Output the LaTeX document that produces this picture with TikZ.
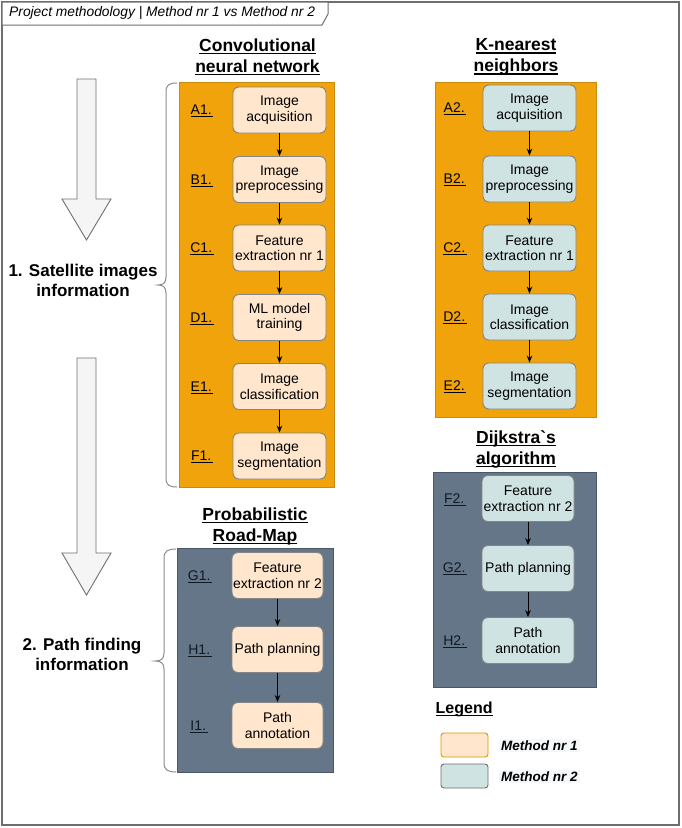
\documentclass[tikz,border=0pt]{standalone}
\usepackage{fontspec}
\setmainfont{Liberation Sans}[Ligatures=TeXOff]
\usetikzlibrary{arrows.meta}
\definecolor{panelO}{HTML}{F0A30A}
\definecolor{panelOline}{HTML}{C98A10}
\definecolor{panelD}{HTML}{647687}
\definecolor{panelDline}{HTML}{4A5866}
\definecolor{mone}{HTML}{FFE6CC}
\definecolor{mtwo}{HTML}{D0E3E3}
\definecolor{boxline}{HTML}{858585}
\definecolor{frameline}{HTML}{6E6E6E}
\definecolor{arrowfill}{HTML}{F5F5F5}
\definecolor{arrowline}{HTML}{707070}
\definecolor{braceline}{HTML}{8C8C8C}
\definecolor{legonel}{HTML}{D79B00}
\definecolor{legtwol}{HTML}{6E6E6E}
\definecolor{darklabel}{HTML}{111A24}
\definecolor{legbg}{HTML}{F4F8FA}
\newcommand{\titleul}[1]{\setbox0=\hbox{#1}\rlap{\vrule height -1.6pt depth 3.1pt width \wd0}\box0}
\newcommand{\labelul}[1]{\setbox0=\hbox{#1\kern1.5pt}\rlap{\vrule height -1.8pt depth 2.9pt width \wd0}\box0}
\begin{document}
\begin{tikzpicture}[x=1pt,y=-1pt,
  panelorange/.style={draw=panelOline, fill=panelO, line width=1pt, inner sep=0pt},
  paneldark/.style={draw=panelDline, fill=panelD, line width=1pt, inner sep=0pt},
  stepone/.style={draw=boxline, fill=mone, rounded corners=6pt, minimum width=93pt, minimum height=46pt, align=center, inner sep=1pt, line width=0.9pt, font=\fontsize{14}{15.5}\selectfont},
  steptwo/.style={stepone, fill=mtwo},
  lab/.style={font=\fontsize{14}{16}\selectfont, text=black, anchor=base, inner sep=0pt},
  labdark/.style={lab, text=darklabel},
  flow/.style={-{Stealth[length=7pt,width=5.5pt]}, line width=0.9pt, black},
  ttl/.style={font=\bfseries\fontsize{17.5}{21}\selectfont, align=center, inner sep=0pt},
  side/.style={font=\bfseries\fontsize{17}{20}\selectfont, align=center, inner sep=0pt},
  bigarrow/.style={draw=arrowline, fill=arrowfill, line width=0.9pt},
  brace/.style={draw=braceline, line width=1pt},
  legtext/.style={font=\bfseries\itshape\fontsize{13.5}{16}\selectfont, fill=legbg, anchor=west, inner xsep=2pt, inner ysep=2pt}
]
\useasboundingbox (0,0) rectangle (682,828);
% outer frame
\draw[draw=frameline, line width=1.5pt, fill=white] (2,2) rectangle (679,825);
\draw[draw=frameline, line width=1pt, fill=white] (2,2) -- (328,2) -- (328,14) -- (322,25) -- (2,25) -- cycle;
\node[anchor=west, font=\itshape\fontsize{13.8}{16}\selectfont, inner sep=0pt] (frametitle) at (9,13.5) {Project methodology | Method nr 1 vs Method nr 2};

% big arrows
\draw[bigarrow] (77,79) -- (96,79) -- (96,199) -- (111,199) -- (86.5,240) -- (62,199) -- (77,199) -- cycle;
\draw[bigarrow] (77,358) -- (96,358) -- (96,553) -- (111,553) -- (86.5,595) -- (62,553) -- (77,553) -- cycle;
\node[side] (sat) at (83,280) {1. Satellite images\\information};
\node[side] (path) at (82,654) {2. Path finding\\information};

% braces
\draw[brace] (177,83) .. controls (169,83) and (166,85) .. (166,92) -- (166,277) .. controls (166,283) and (163,285) .. (158,285) .. controls (163,285) and (166,287) .. (166,293) -- (166,478) .. controls (166,485) and (169,487) .. (177,487);
\draw[brace] (176,549) .. controls (168,549) and (164,551) .. (164,558) -- (164,653) .. controls (164,659) and (161,661) .. (155,661) .. controls (161,661) and (164,663) .. (164,669) -- (164,763) .. controls (164,770) and (168,772) .. (176,772);

% panels
\node[panelorange, minimum width=155pt, minimum height=405pt] (pcnn) at (256.5,284.5) {};
\node[panelorange, minimum width=161pt, minimum height=335pt] (pknn) at (515.5,249.5) {};
\node[paneldark, minimum width=163pt, minimum height=215pt] (pdij) at (514.5,579.5) {};
\node[paneldark, minimum width=156pt, minimum height=224pt] (pprm) at (255,660) {};

% titles
\node[ttl] (tcnn) at (257.5,57) {\titleul{Convolutional}\\\titleul{neural network}};
\node[ttl] (tknn) at (516,57) {\titleul{K-nearest}\\\titleul{neighbors}};
\node[ttl] (tdij) at (516,449) {\titleul{Dijkstra`s}\\\titleul{algorithm}};
\node[ttl] (tprm) at (255,526) {\titleul{Probabilistic}\\\titleul{Road-Map}};

% CNN column
\node[stepone] (a1) at (279.5,110) {Image\\acquisition};
\node[stepone] (b1) at (279.5,179.5) {Image\\preprocessing};
\node[stepone] (c1) at (279.5,248) {Feature\\extraction nr 1};
\node[stepone] (d1) at (279.5,317.5) {ML model\\training};
\node[stepone] (e1) at (279.5,386.5) {Image\\classification};
\node[stepone] (f1) at (279.5,456) {Image\\segmentation};
\node[lab] (la1) at (202,114.5) {\labelul{A1.}};
\node[lab] (lb1) at (202,184) {\labelul{B1.}};
\node[lab] (lc1) at (202,252.5) {\labelul{C1.}};
\node[lab] (ld1) at (202,322) {\labelul{D1.}};
\node[lab] (le1) at (202,391) {\labelul{E1.}};
\node[lab] (lf1) at (202,460.5) {\labelul{F1.}};
\draw[flow] (a1) -- (b1);
\draw[flow] (b1) -- (c1);
\draw[flow] (c1) -- (d1);
\draw[flow] (d1) -- (e1);
\draw[flow] (e1) -- (f1);

% KNN column
\node[steptwo] (a2) at (529.5,108) {Image\\acquisition};
\node[steptwo] (b2) at (529.5,179) {Image\\preprocessing};
\node[steptwo] (c2) at (529.5,248) {Feature\\extraction nr 1};
\node[steptwo] (d2) at (529.5,317) {Image\\classification};
\node[steptwo] (e2) at (529.5,386) {Image\\segmentation};
\node[lab] (la2) at (455,112.5) {\labelul{A2.}};
\node[lab] (lb2) at (455,183.5) {\labelul{B2.}};
\node[lab] (lc2) at (455,252.5) {\labelul{C2.}};
\node[lab] (ld2) at (455,321.5) {\labelul{D2.}};
\node[lab] (le2) at (455,390.5) {\labelul{E2.}};
\draw[flow] (a2) -- (b2);
\draw[flow] (b2) -- (c2);
\draw[flow] (c2) -- (d2);
\draw[flow] (d2) -- (e2);

% Dijkstra column
\node[steptwo, minimum width=92pt] (f2) at (528,498.5) {Feature\\extraction nr 2};
\node[steptwo, minimum width=92pt] (g2) at (528,568.5) {Path planning};
\node[steptwo, minimum width=92pt] (h2) at (528,640.5) {Path\\annotation};
\node[labdark] (lf2) at (455,503) {\labelul{F2.}};
\node[labdark] (lg2) at (455,572) {\labelul{G2.}};
\node[labdark] (lh2) at (455,645) {\labelul{H2.}};
\draw[flow] (f2) -- (g2);
\draw[flow] (g2) -- (h2);

% PRM column
\node[stepone, minimum width=91pt] (g1) at (277.5,575.5) {Feature\\extraction nr 2};
\node[stepone, minimum width=91pt] (h1) at (277.5,649.5) {Path planning};
\node[stepone, minimum width=91pt] (i1) at (277.5,725.5) {Path\\annotation};
\node[labdark] (lg1) at (200,580) {\labelul{G1.}};
\node[labdark] (lh1) at (200,654) {\labelul{H1.}};
\node[labdark] (li1) at (199,730) {\labelul{I1.}};
\draw[flow] (g1) -- (h1);
\draw[flow] (h1) -- (i1);

% legend
\node[font=\bfseries\fontsize{16}{19}\selectfont, anchor=west, inner sep=0pt] (legend) at (435.5,709) {\titleul{Legend}};
\node[draw=legonel, fill=mone, rounded corners=3pt, minimum width=47pt, minimum height=24pt, line width=0.9pt] (legone) at (464.5,745) {};
\node[draw=legtwol, fill=mtwo, rounded corners=3pt, minimum width=47pt, minimum height=24pt, line width=0.9pt] (legtwo) at (464.5,776) {};
\node[legtext] (legonetext) at (499,745.5) {Method nr 1};
\node[legtext] (legtwotext) at (499,776.5) {Method nr 2};
\end{tikzpicture}
\end{document}
